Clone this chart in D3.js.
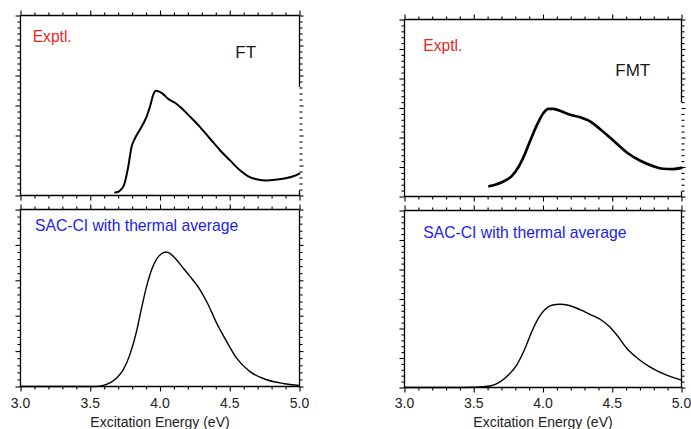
<!DOCTYPE html>
<html><head><meta charset="utf-8">
<script src="https://cdn.jsdelivr.net/npm/d3@7"></script>
<style>
html,body{margin:0;padding:0;background:#fff;}
svg{display:block;font-family:"Liberation Sans",Arial,sans-serif;}
</style></head>
<body>
<svg id="chart" width="691" height="429"></svg>
<script>
// ---- data ----
const xTickLabels = ["3.0","3.5","4.0","4.5","5.0"];
const xTickValues = [3.0,3.5,4.0,4.5,5.0];
const axisTitle = "Excitation Energy (eV)";

// FT experimental spectrum (eV, arbitrary units)
const ftExpE = [3.679,3.707,3.741,3.772,3.796,3.82,3.868,3.904,3.928,3.951,3.971,3.994,4.023,4.059,4.107,4.155,4.215,4.286,4.358,4.43,4.502,4.573,4.633,4.693,4.765,4.836,4.908,4.956,4.999];
const ftExpI = [0.10,0.14,0.335,0.95,1.62,1.90,2.29,2.63,2.96,3.35,3.49,3.46,3.38,3.22,3.09,2.91,2.63,2.29,1.90,1.51,1.17,0.84,0.64,0.54,0.50,0.53,0.58,0.64,0.73];

// FT SAC-CI thermal average
const ftCalcE = [3.0,3.3,3.545,3.593,3.641,3.689,3.736,3.784,3.832,3.868,3.904,3.94,3.976,4.011,4.042,4.071,4.107,4.155,4.215,4.286,4.346,4.406,4.478,4.549,4.645,4.765,4.884,4.999];
const ftCalcI = [0,0,0,0.03,0.10,0.24,0.47,0.90,1.56,2.22,2.83,3.30,3.60,3.75,3.80,3.76,3.63,3.40,3.11,2.74,2.31,1.79,1.27,0.80,0.42,0.19,0.085,0.03];

// FMT experimental spectrum
const fmtExpE = [3.613,3.654,3.714,3.774,3.822,3.87,3.918,3.966,4.002,4.038,4.074,4.135,4.195,4.267,4.327,4.411,4.507,4.603,4.699,4.795,4.867,4.939,5.0];
const fmtExpI = [0.35,0.40,0.51,0.69,0.99,1.45,2.01,2.52,2.82,2.97,2.97,2.88,2.77,2.69,2.58,2.29,1.90,1.50,1.22,1.03,0.94,0.93,0.97];

// FMT SAC-CI thermal average
const fmtCalcE = [3.0,3.3,3.51,3.618,3.69,3.75,3.81,3.87,3.918,3.966,4.014,4.063,4.123,4.182,4.267,4.339,4.423,4.483,4.543,4.603,4.675,4.771,4.892,5.0];
const fmtCalcI = [0,0,0.01,0.05,0.19,0.42,0.76,1.32,1.88,2.34,2.64,2.79,2.82,2.79,2.64,2.48,2.28,2.05,1.72,1.34,1.02,0.70,0.42,0.25];

const labelExp = "Exptl.";
const labelCalc = "SAC-CI with thermal average";
const labelFT = "FT";
const labelFMT = "FMT";

// ---- layout ----
const svg = d3.select("#chart");
const panels = [
  {x0:20.5, x1:299.5, y0:15.5, y1:195.5, yMax:6, E:ftExpE, I:ftExpI, lw:2.0, bottomLabels:false, rightBreak:3.62,
   texts:[{t:labelExp,x:32.7,y:41.7,size:15.6,fill:"#f01e1e"},{t:labelFT,x:235.3,y:58.3,size:17,fill:"#1a1a1a"}]},
  {x0:20.5, x1:299.5, y0:209.5, y1:386.5, yMax:5, E:ftCalcE, I:ftCalcI, lw:1.4, bottomLabels:true, rightBreak:null,
   texts:[{t:labelCalc,x:35,y:231,size:15.7,fill:"#2020f0"}]},
  {x0:404.5, x1:681.5, y0:19.5, y1:196.5, yMax:6, E:fmtExpE, I:fmtExpI, lw:2.7, bottomLabels:false, rightBreak:3.2,
   texts:[{t:labelExp,x:423.3,y:50.7,size:15.6,fill:"#f01e1e"},{t:labelFMT,x:615.3,y:76,size:17,fill:"#1a1a1a"}]},
  {x0:404.5, x1:681.5, y0:210.5, y1:387.5, yMax:6, E:fmtCalcE, I:fmtCalcI, lw:1.4, bottomLabels:true, rightBreak:null,
   texts:[{t:labelCalc,x:423.3,y:238.3,size:15.7,fill:"#2020f0"}]}
];

const MAJ = 5, MIN = 3, AX = "#000";

panels.forEach(p => {
  const x = d3.scaleLinear().domain([3,5]).range([p.x0,p.x1]);
  const y = d3.scaleLinear().domain([0,p.yMax]).range([p.y1,p.y0]);
  const g = svg.append("g");

  const xMinor = d3.range(30,51).map(v=>v/10).filter(v=>Math.abs(v*2-Math.round(v*2))>1e-6);
  const yMajor = d3.range(0,p.yMax+1);
  const yMinor = d3.range(0,p.yMax*5+1).map(v=>v/5).filter(v=>Math.abs(v-Math.round(v))>1e-6);

  function tickAxis(axisFn, scale, vals, size, tx, ty){
    const a = g.append("g").attr("transform",`translate(${tx},${ty})`)
      .call(axisFn(scale).tickValues(vals).tickSize(size).tickFormat(""));
    a.select(".domain").remove();
    a.selectAll("line").attr("stroke",AX).attr("stroke-width",1.1);
    return a;
  }
  // bottom / top x ticks (outward)
  tickAxis(d3.axisBottom, x, xTickValues, MAJ, 0, p.y1);
  tickAxis(d3.axisBottom, x, xMinor, MIN, 0, p.y1);
  tickAxis(d3.axisTop, x, xTickValues, MAJ, 0, p.y0);
  tickAxis(d3.axisTop, x, xMinor, MIN, 0, p.y0);
  // left / right y ticks (outward)
  tickAxis(d3.axisLeft, y, yMajor, MAJ, p.x0, 0);
  tickAxis(d3.axisLeft, y, yMinor, MIN, p.x0, 0);
  tickAxis(d3.axisRight, y, yMajor, MAJ-1, p.x1, 0);
  tickAxis(d3.axisRight, y, yMinor, MIN, p.x1, 0);

  // frame lines
  const ln = (x1,y1,x2,y2)=>g.append("line").attr("x1",x1).attr("y1",y1).attr("x2",x2).attr("y2",y2)
      .attr("stroke",AX).attr("stroke-width",1.3);
  ln(p.x0,p.y0,p.x1,p.y0);
  ln(p.x0,p.y1,p.x1,p.y1);
  ln(p.x0,p.y0,p.x0,p.y1);
  if (p.rightBreak === null) {
    ln(p.x1,p.y0,p.x1,p.y1);
  } else {
    ln(p.x1,p.y0,p.x1,y(p.rightBreak));
    ln(p.x1,p.y1-5,p.x1,p.y1);
  }

  // curve
  const pts = p.E.map((e,i)=>[e,p.I[i]]);
  g.append("path").datum(pts)
    .attr("fill","none").attr("stroke","#000").attr("stroke-width",p.lw)
    .attr("stroke-linejoin","round").attr("stroke-linecap","round")
    .attr("d", d3.line().x(d=>x(d[0])).y(d=>y(d[1])).curve(d3.curveMonotoneX));

  // texts
  p.texts.forEach(t=>{
    g.append("text").attr("x",t.x).attr("y",t.y).attr("font-size",t.size).attr("fill",t.fill).text(t.t);
  });

  if (p.bottomLabels) {
    g.selectAll(".xl").data(xTickValues).enter().append("text")
      .attr("x",d=>x(d)).attr("y",408.3).attr("text-anchor","middle")
      .attr("font-size",14).attr("fill","#222")
      .text((d,i)=>xTickLabels[i]);
    g.append("text").attr("x",(p.x0+p.x1)/2).attr("y",426.6).attr("text-anchor","middle")
      .attr("font-size",14).attr("fill","#222").text(axisTitle);
  }
});
</script>
</body></html>
